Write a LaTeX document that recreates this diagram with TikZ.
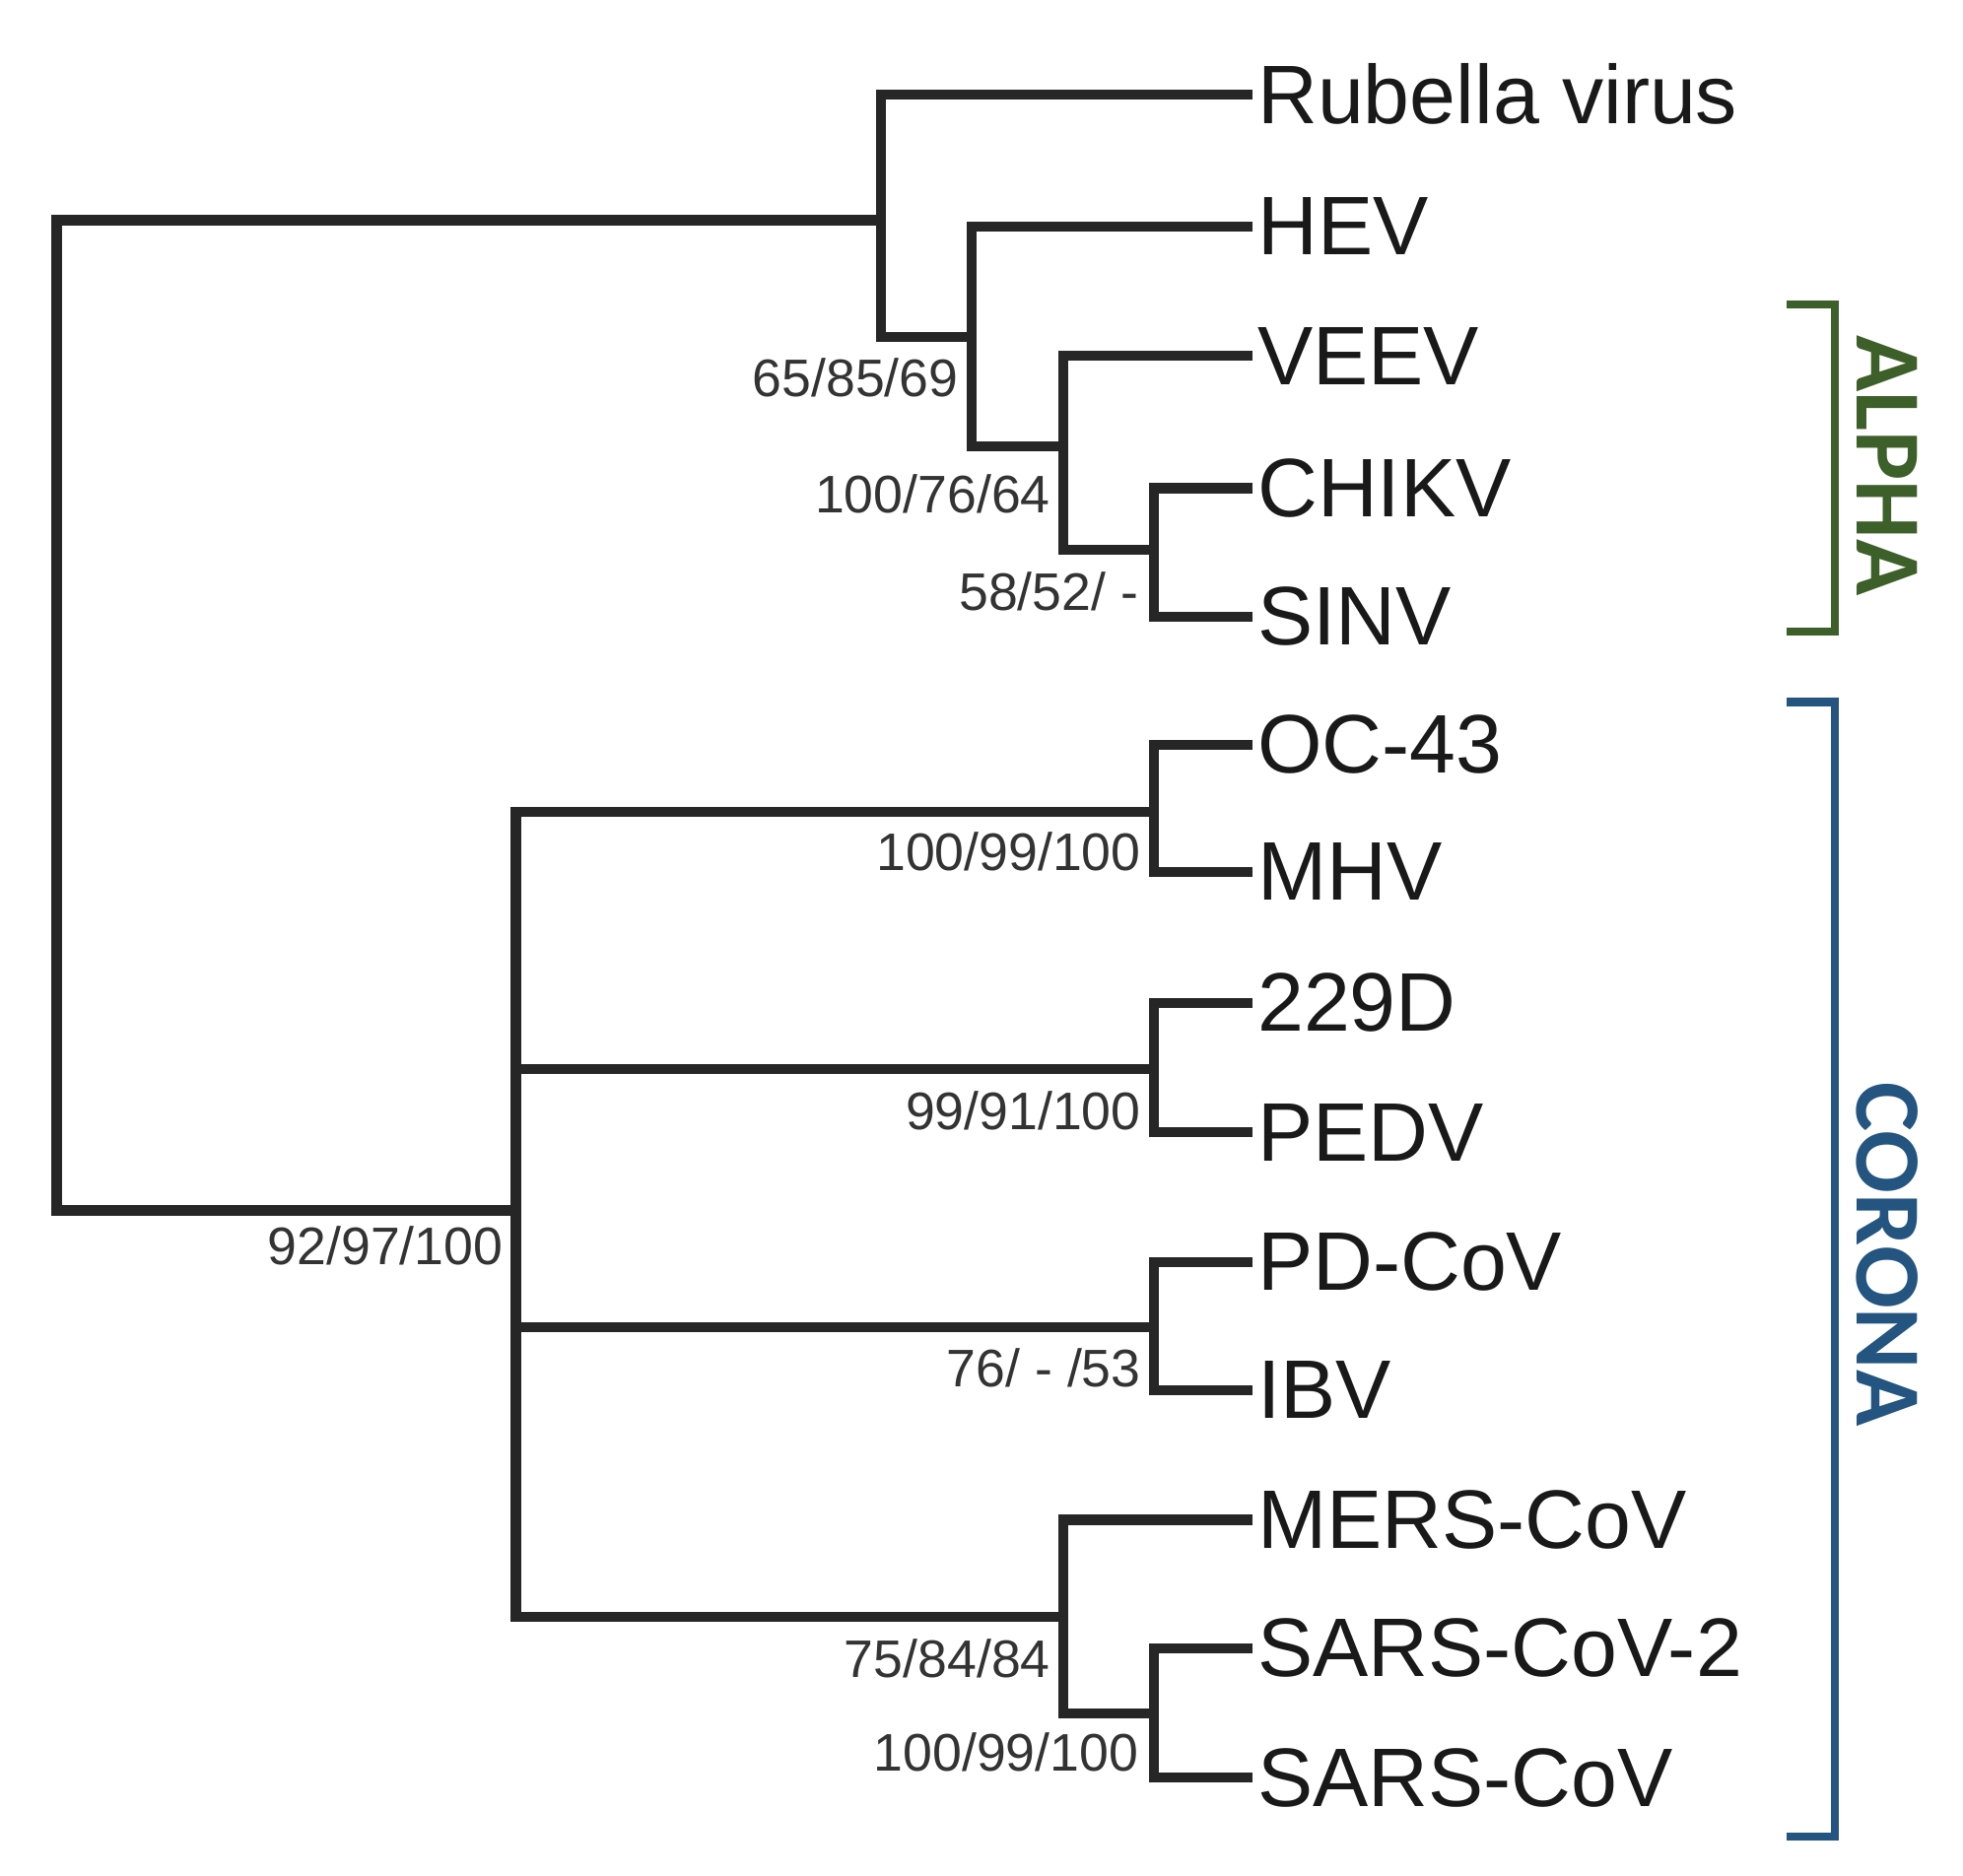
\documentclass[tikz,border=0pt]{standalone}
\usepackage{fontspec}
\setmainfont{Liberation Sans}
\newfontfamily\cladefont{Carlito}
\definecolor{alphagreen}{RGB}{61,95,42}
\definecolor{coronablue}{RGB}{36,84,128}
\begin{document}
\begin{tikzpicture}[x=0.5pt,y=-0.5pt,
  branch/.style={line width=4pt,color=black!85},
  leaf/.style={anchor=west,inner sep=2pt,font=\fontsize{33}{36}\selectfont,color=black!90},
  support/.style={anchor=east,inner sep=0pt,font=\fontsize{21}{24}\selectfont,color=black!80},
  clade/.style={line width=3.2pt}]
\useasboundingbox (0,0) rectangle (1560,1491);

% leaves
\node[leaf] (rub) at (995,75) {Rubella virus};
\node[leaf] (hev) at (995,180) {HEV};
\node[leaf] (veev) at (995,283) {VEEV};
\node[leaf] (chikv) at (995,388) {CHIKV};
\node[leaf] (sinv) at (995,490) {SINV};
\node[leaf] (oc) at (995,592) {OC-43};
\node[leaf] (mhv) at (995,693) {MHV};
\node[leaf] (d229) at (995,797) {229D};
\node[leaf] (pedv) at (995,900) {PEDV};
\node[leaf] (pdcov) at (995,1003) {PD-CoV};
\node[leaf] (ibv) at (995,1105) {IBV};
\node[leaf] (mers) at (995,1208) {MERS-CoV};
\node[leaf] (sars2) at (995,1310) {SARS-CoV-2};
\node[leaf] (sars) at (995,1413) {SARS-CoV};

% internal nodes
\coordinate (root) at (45,500);
\coordinate (na) at (700,175);
\coordinate (nb) at (772,268);
\coordinate (nc) at (845,355);
\coordinate (nd) at (917,437);
\coordinate (ne) at (410,962);
\coordinate (nf) at (917,645);
\coordinate (ng) at (917,850);
\coordinate (nh) at (917,1055);
\coordinate (ni) at (845,1285);
\coordinate (nj) at (917,1362);

% branches
\draw[branch] (root) |- (na);
\draw[branch] (root) |- (ne);
\draw[branch] (na) |- (rub.west);
\draw[branch] (na) |- (nb);
\draw[branch] (nb) |- (hev.west);
\draw[branch] (nb) |- (nc);
\draw[branch] (nc) |- (veev.west);
\draw[branch] (nc) |- (nd);
\draw[branch] (nd) |- (chikv.west);
\draw[branch] (nd) |- (sinv.west);
\draw[branch] (ne) |- (nf);
\draw[branch] (ne) |- (ng);
\draw[branch] (ne) |- (nh);
\draw[branch] (ne) |- (ni);
\draw[branch] (nf) |- (oc.west);
\draw[branch] (nf) |- (mhv.west);
\draw[branch] (ng) |- (d229.west);
\draw[branch] (ng) |- (pedv.west);
\draw[branch] (nh) |- (pdcov.west);
\draw[branch] (nh) |- (ibv.west);
\draw[branch] (ni) |- (mers.west);
\draw[branch] (ni) |- (nj);
\draw[branch] (nj) |- (sars2.west);
\draw[branch] (nj) |- (sars.west);

% support values
\node[support] (sb) at (762,300) {65/85/69};
\node[support] (sc) at (835,393) {100/76/64};
\node[support] (sd) at (905,470) {58/52/ -};
\node[support] (sf) at (907,677) {100/99/100};
\node[support] (sg) at (907,883) {99/91/100};
\node[support] (se) at (400,990) {92/97/100};
\node[support] (sh) at (907,1087) {76/ - /53};
\node[support] (si) at (835,1318) {75/84/84};
\node[support] (sj) at (905,1393) {100/99/100};

% clades
\draw[clade,alphagreen] (1420,242) -- (1458,242) -- (1458,502) -- (1420,502);
\node[rotate=-90,color=alphagreen,font=\cladefont\bfseries\fontsize{37}{40}\selectfont] (alpha) at (1500,370) {ALPHA};
\draw[clade,coronablue] (1420,558) -- (1458,558) -- (1458,1460) -- (1420,1460);
\node[rotate=-90,color=coronablue,font=\cladefont\bfseries\fontsize{37}{40}\selectfont] (corona) at (1500,997) {CORONA};
\end{tikzpicture}
\end{document}
